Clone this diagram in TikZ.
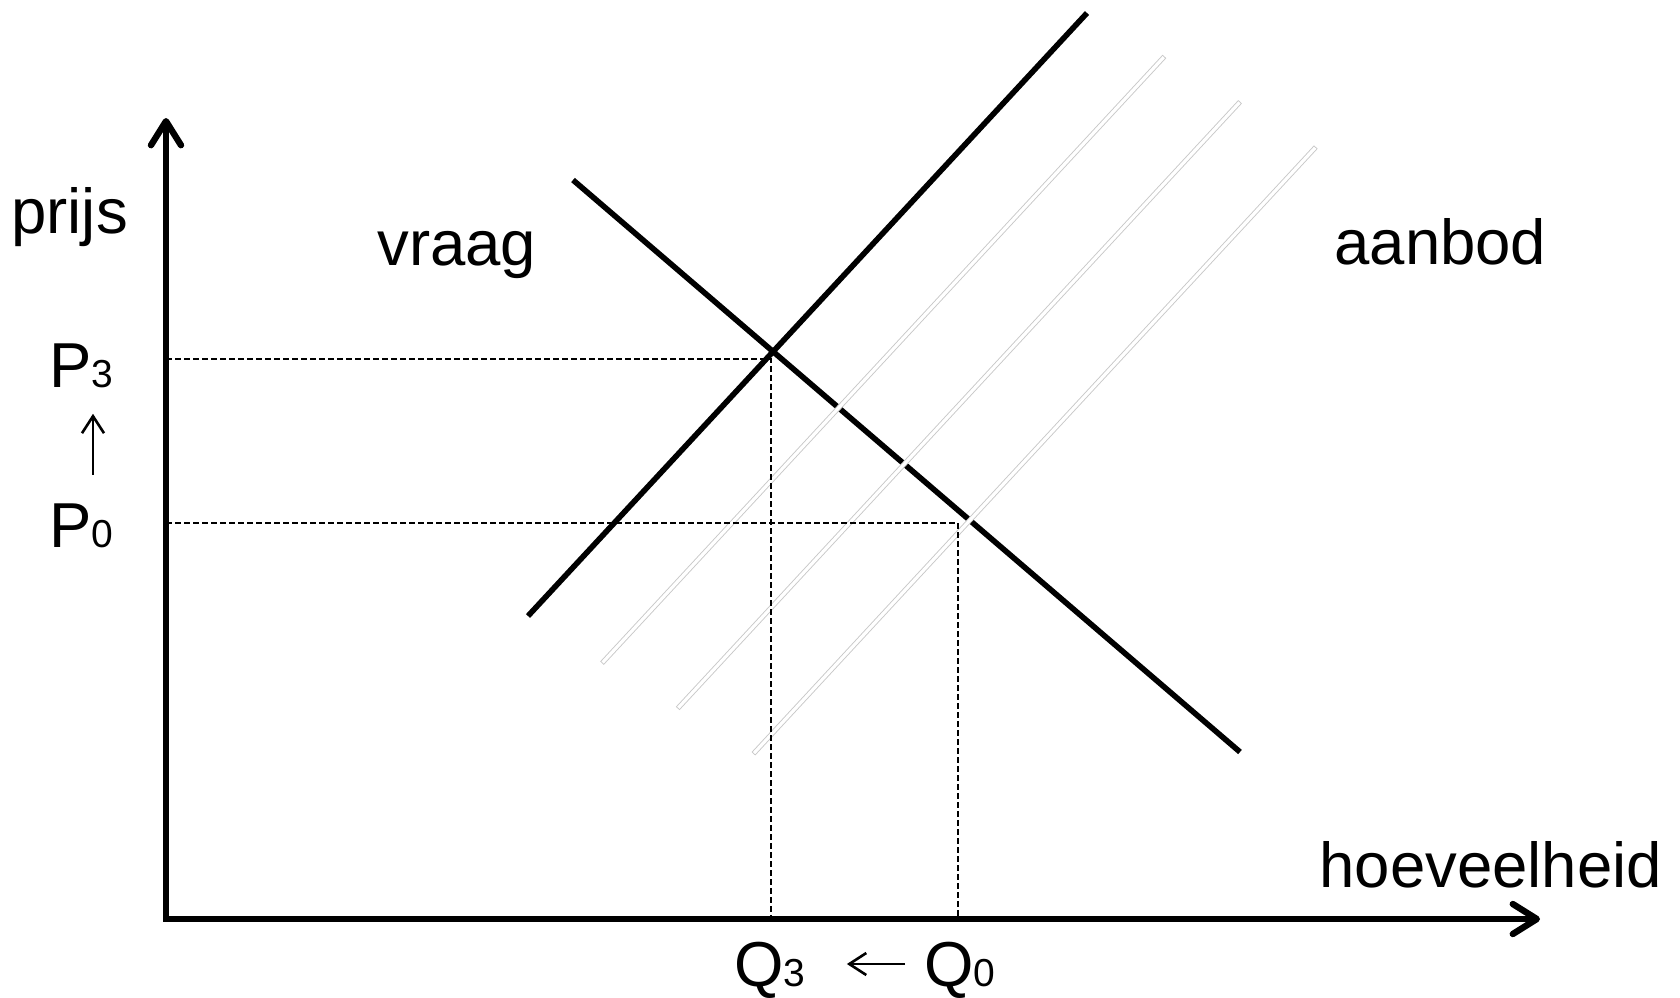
\documentclass[tikz,border=0pt]{standalone}
\usepackage{fontspec}
\setmainfont{Liberation Sans}
\usetikzlibrary{arrows.meta,calc}
\definecolor{shiftgray}{RGB}{200,200,200}
\newcommand{\subsz}{\fontsize{19.5}{22}\selectfont}
\tikzset{
  axis/.style={line width=3.2pt,{Straight Barb[length=12pt,width=15pt,round]}-{Straight Barb[length=12pt,width=15pt,round]}},
  curve/.style={line width=2.8pt},
  shifted/.style={draw=shiftgray,double=white,line width=0.45pt,double distance=1.6pt,line cap=rect},
  guide/.style={dash pattern=on 3pt off 1.5pt,line width=0.55pt},
  lbl/.style={anchor=base west,inner sep=0pt,font=\fontsize{31.75}{38}\selectfont},
  shiftarrow/.style={line width=1.3pt,-{Straight Barb[length=8.5pt,width=11pt]}},
}

\begin{document}
\begin{tikzpicture}[x=0.5pt,y=-0.5pt]
  \useasboundingbox (0,0) rectangle (1680,997);
  \coordinate (origin) at (166,919);
  % Demand
  \draw[curve] (573,180) -- (1240,752);
  % Shifted supply curves
  \foreach \k in {1,2,3}{
    \draw[shifted,shift={(75.7*\k,45.3*\k)}] (528,616) -- (1087,13);
  }
  % Supply
  \draw[curve] (528,616) -- (1087,13);
  % Guide lines
  \coordinate (eq3) at (771,359);
  \coordinate (eq0) at (958,523);
  \draw[guide] (eq3 -| origin) -- (eq3) -- (eq3 |- origin);
  \draw[guide] (eq0 -| origin) -- (eq0) -- (eq0 |- origin);
  % Axes
  \draw[axis] (166,118) -- (origin) -- (1540,919);
  % Labels
  \node[lbl] (ylabel) at (11,233) {prijs};
  \node[lbl] (xlabel) at (1319,887) {hoeveelheid};
  \node[lbl] (vraag) at (377,265) {vraag};
  \node[lbl] (aanbod) at (1334,264) {aanbod};
  \node[lbl] (p3) at (49,387) {P{\subsz 3}};
  \node[lbl] (p0) at (49,547) {P{\subsz 0}};
  \node[lbl] (q3) at (734,986) {Q{\subsz 3}};
  \node[lbl] (q0) at (924,986) {Q{\subsz 0}};
  \draw[shiftarrow] ([xshift=22pt,yshift=14pt]p0.north west) -- ([xshift=22pt,yshift=-13pt]p3.south west);
  \draw[shiftarrow] ([xshift=-9.5pt,yshift=11pt]q0.base west) -- ([xshift=20.5pt,yshift=11pt]q3.base east);
\end{tikzpicture}
\end{document}
